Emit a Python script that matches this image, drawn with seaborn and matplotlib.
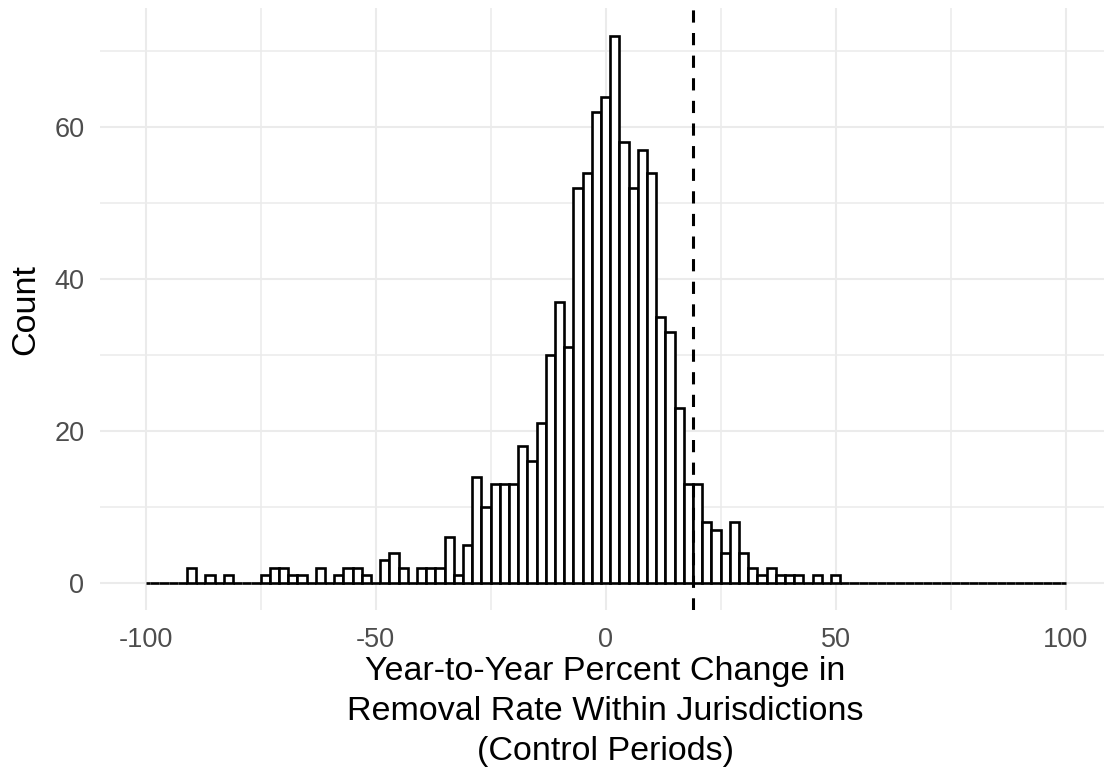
import numpy as np
import pandas as pd
import matplotlib
matplotlib.use("Agg")
import matplotlib.pyplot as plt
import seaborn as sns
from matplotlib.ticker import MultipleLocator

# ---- data (bin centres every 2 units, bins are 2 wide) ----
bin_centers = list(range(-100, 101, 2))
counts = [
    0, 0, 0, 0, 0, 2, 0, 1, 0, 1,          # -100 .. -82
    0, 0, 0, 1, 2, 2, 1, 1, 0, 2,          # -80 .. -62
    0, 1, 2, 2, 1, 0, 3, 4, 2, 0,          # -60 .. -42
    2, 2, 2, 6, 1, 5, 14, 10, 13, 13,      # -40 .. -22
    13, 18, 16, 21, 30, 37, 31, 52, 54, 62,  # -20 .. -2
    64, 72, 58, 52, 57, 54, 35, 33, 23, 13,  # 0 .. 18
    13, 8, 7, 4, 8, 4, 2, 1, 2, 1,         # 20 .. 38
    1, 1, 0, 1, 0, 1,                      # 40 .. 50
] + [0] * 25                               # 52 .. 100
bin_edges = [-100] + list(range(-99, 100, 2)) + [100]
threshold = 18.9
x_ticks = [-100, -50, 0, 50, 100]
y_ticks = [0, 20, 40, 60]
xlabel = "Year-to-Year Percent Change in\nRemoval Rate Within Jurisdictions\n(Control Periods)"
ylabel = "Count"

df = pd.DataFrame({"change": bin_centers, "n": counts})

sns.set_theme(style="white")
plt.rcParams["font.family"] = ["Liberation Sans", "DejaVu Sans"]

W, H = 1104, 772
fig = plt.figure(figsize=(W / 100, H / 100), dpi=100)
left_px, right_px, top_px, bottom_px = 99.6, 1111.6, 8.4, 610.4
ax = fig.add_axes([left_px / W, 1 - bottom_px / H,
                   (right_px - left_px) / W, (bottom_px - top_px) / H])

sns.histplot(data=df, x="change", weights="n", bins=bin_edges, ax=ax,
             stat="count", element="bars", fill=True,
             facecolor="white", edgecolor="black", linewidth=1.9, alpha=1,
             zorder=3)
ax.axvline(threshold, color="black", linewidth=2.2,
           linestyle=(0, (4, 3.4)), zorder=4)

ax.set_xlim(-110, 110)
ax.set_ylim(-3.6, 75.6)
ax.xaxis.set_major_locator(MultipleLocator(50))
ax.xaxis.set_minor_locator(MultipleLocator(25))
ax.yaxis.set_major_locator(MultipleLocator(20))
ax.yaxis.set_minor_locator(MultipleLocator(10))
ax.set_xticks(x_ticks)
ax.set_yticks(y_ticks)
ax.set_xticklabels([str(v) for v in x_ticks])
ax.set_yticklabels([str(v) for v in y_ticks])

ax.grid(True, which="major", color="#EBEBEB", linewidth=1.5, zorder=0)
ax.grid(True, which="minor", color="#EBEBEB", linewidth=1.1, zorder=0)
ax.set_axisbelow(True)
for s in ax.spines.values():
    s.set_visible(False)

ax.tick_params(axis="both", which="both", length=0, labelsize=19.5,
               labelcolor="#4D4D4D")
ax.tick_params(axis="x", pad=12)
ax.tick_params(axis="y", pad=11)

ax.set_xlabel(xlabel, fontsize=24.5, color="black", linespacing=1.38,
              labelpad=2)
ax.set_ylabel(ylabel, fontsize=24.5, color="black", labelpad=9)

fig.savefig("out.png", dpi=100)
